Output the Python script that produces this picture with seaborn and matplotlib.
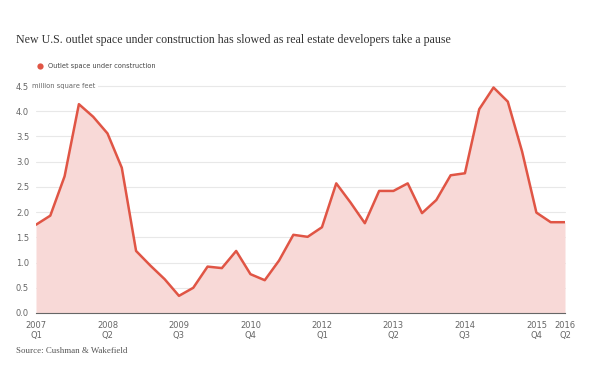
import numpy as np
import pandas as pd
import matplotlib
matplotlib.use("Agg")
import matplotlib.pyplot as plt
from matplotlib.lines import Line2D
import seaborn as sns

# Quarterly outlet space under construction, 2007 Q1 - 2016 Q2 (million sq ft)
quarters = [f"{y} Q{q}" for y in range(2007, 2017) for q in range(1, 5)][:38]
values = [1.75, 1.93, 2.71, 4.14, 3.89, 3.56, 2.88, 1.23, 0.94, 0.67,
          0.34, 0.50, 0.92, 0.89, 1.23, 0.77, 0.65, 1.04, 1.55, 1.51,
          1.70, 2.57, 2.19, 1.78, 2.42, 2.42, 2.57, 1.98, 2.24, 2.73,
          2.77, 4.04, 4.47, 4.19, 3.20, 1.99, 1.80, 1.80]
tick_pos = [0, 5, 10, 15, 20, 25, 30, 35, 37]
tick_labels = ["2007\nQ1", "2008\nQ2", "2009\nQ3", "2010\nQ4", "2012\nQ1",
               "2013\nQ2", "2014\nQ3", "2015\nQ4", "2016\nQ2"]
y_ticks = [0.0, 0.5, 1.0, 1.5, 2.0, 2.5, 3.0, 3.5, 4.0, 4.5]
y_labels = ["0.0", "0.5", "1.0", "1.5", "2.0", "2.5", "3.0", "3.5", "4.0", "4.5"]
y_unit = "million square feet"

df = pd.DataFrame({"idx": np.arange(len(values)), "quarter": quarters, "value": values})

sns.set_theme(style="white")
plt.rcParams["font.family"] = ["DejaVu Sans"]

line_color = "#e05545"
fill_color = "#f8d9d7"
text_gray = "#666666"

fig = plt.figure(figsize=(5.93, 3.76), dpi=100)
ax = fig.add_axes([36 / 593, 1 - 313 / 376, (565 - 36) / 593, (313 - 86) / 376])

ax.fill_between(df["idx"], df["value"], 0, color=fill_color, linewidth=0, zorder=1)
sns.lineplot(data=df, x="idx", y="value", color=line_color, linewidth=1.8, ax=ax, zorder=3)

ax.set_xlim(0, 37)
ax.set_ylim(0, 4.5)
ax.set_xlabel("")
ax.set_ylabel("")

# grid
for yv in y_ticks[1:]:
    ax.axhline(yv, color="#e8e8e8", linewidth=0.8, zorder=0, clip_on=False)

ax.set_yticks(y_ticks)
ax.set_yticklabels(y_labels, fontsize=6, color=text_gray, ha="left")
ax.tick_params(axis="y", length=0, pad=14.4)
# unit label next to top tick (white box hides the gridline under it)
ax.annotate(y_unit, xy=(0, y_ticks[-1]), xycoords=("axes fraction", "data"),
            xytext=(-3.2, 0), textcoords="offset points",
            fontsize=4.9, color=text_gray, ha="left", va="center", zorder=5,
            bbox=dict(boxstyle="square,pad=0.5", facecolor="white", edgecolor="none"))

ax.set_xticks(tick_pos)
ax.set_xticklabels(tick_labels, fontsize=6, color=text_gray, linespacing=1.15)
ax.tick_params(axis="x", length=3, width=0.8, color="#666666", pad=3, direction="out")

for s in ["top", "right", "left"]:
    ax.spines[s].set_visible(False)
ax.spines["bottom"].set_color("#666666")
ax.spines["bottom"].set_linewidth(0.8)
ax.spines["bottom"].set_zorder(4)

# title, legend, source
fig.text(16 / 593, 1 - 40 / 376, "New U.S. outlet space under construction has slowed as real estate developers take a pause",
         fontsize=8.6, family="Liberation Serif", color="#333333", va="center", ha="left")
fig.add_artist(Line2D([40 / 593], [1 - 66 / 376], marker="o", markersize=4.5, color=line_color,
                      markeredgewidth=0, transform=fig.transFigure))
fig.text(48 / 593, 1 - 66 / 376, "Outlet space under construction",
         fontsize=4.8, color="#444444", va="center", ha="left")
fig.text(16 / 593, 1 - 351 / 376, "Source: Cushman & Wakefield",
         fontsize=6.4, family="Liberation Serif", color="#555555", va="center", ha="left")

fig.savefig("out.png", dpi=100)
